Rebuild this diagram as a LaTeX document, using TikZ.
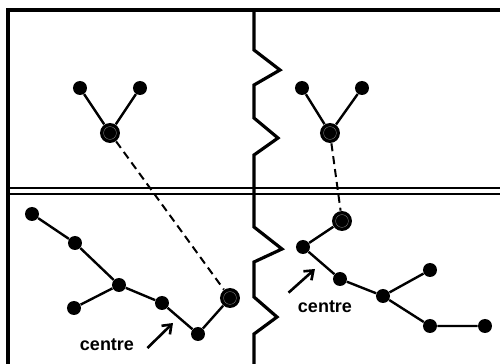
\documentclass[tikz,border=0pt]{standalone}
\usepackage{fontspec}
\setmainfont{Liberation Sans}
\usetikzlibrary{arrows.meta}

\begin{document}
\begin{tikzpicture}[x=0.5pt, y=-0.5pt,
  dot/.style={circle, fill=black, inner sep=0pt, minimum size=7pt},
  hub/.style={circle, fill=black, inner sep=0pt, minimum size=10pt,
    path picture={\draw[black!55, line width=0.2pt] (path picture bounding box.center) circle (3.2pt);}},
  bond/.style={line width=1.2pt},
  link/.style={line width=1pt, dash pattern=on 4pt off 2.5pt},
  frame/.style={line width=1.6pt},
  tag/.style={font=\bfseries\fontsize{9}{11}\selectfont, inner sep=0pt},
  pointer/.style={line width=1.3pt, -{Straight Barb[length=4pt, width=6pt]}}]
\useasboundingbox (0,0) rectangle (500,364);

% outer frame and the double line between the two rows
\draw[frame] (8,364) -- (8,10) -- (500,10);
\draw[line width=1.1pt] (8,188) -- (500,188);
\draw[line width=1.1pt] (8,194) -- (500,194);
% broken wall between the two columns
\draw[frame] (254,10) -- (254,50) -- (280,70) -- (254,85) -- (254,118) -- (278,138) -- (254,155)
  -- (254,227) -- (282,249) -- (254,262) -- (254,297) -- (277,317) -- (254,334) -- (254,364);

% top row, the two small fragments
\node[dot] (tl1) at (80,88) {};
\node[dot] (tl2) at (140,88) {};
\node[hub] (tlc) at (110,133) {};
\draw[bond] (tl1) -- (tlc) -- (tl2);
\node[dot] (tr1) at (302,88) {};
\node[dot] (tr2) at (362,88) {};
\node[hub] (trc) at (330,133) {};
\draw[bond] (tr1) -- (trc) -- (tr2);

% bottom left chain
\node[dot] (bl1) at (32,214) {};
\node[dot] (bl2) at (75,243) {};
\node[dot] (bl3) at (119,285) {};
\node[dot] (bl4) at (74,308) {};
\node[dot] (bl5) at (162,303) {};
\node[dot] (bl6) at (198,334) {};
\node[hub] (bl7) at (230,298) {};
\draw[bond] (bl1) -- (bl2) -- (bl3) -- (bl5) -- (bl6) -- (bl7);
\draw[bond] (bl3) -- (bl4);

% bottom right chain
\node[hub] (br1) at (342,221) {};
\node[dot] (br2) at (303,247) {};
\node[dot] (br3) at (340,279) {};
\node[dot] (br4) at (383,296) {};
\node[dot] (br5) at (430,270) {};
\node[dot] (br6) at (430,326) {};
\node[dot] (br7) at (485,326) {};
\draw[bond] (br1) -- (br2) -- (br3) -- (br4) -- (br5);
\draw[bond] (br4) -- (br6) -- (br7);

% attachment points across the rows
\draw[link] (tlc) -- (bl7);
\draw[link] (trc) -- (br1);

% labels
\node[tag] (cl) at (107,345) {centre};
\coordinate (clTip) at (173,323);
\draw[pointer] ([shift={(6.5pt,-1.5pt)}]cl.east) -- (clTip);
\node[tag] (cr) at (325,307) {centre};
\coordinate (crTip) at (315,269);
\draw[pointer] ([shift={(-4.5pt,4pt)}]cr.north west) -- (crTip);
\end{tikzpicture}
\end{document}
